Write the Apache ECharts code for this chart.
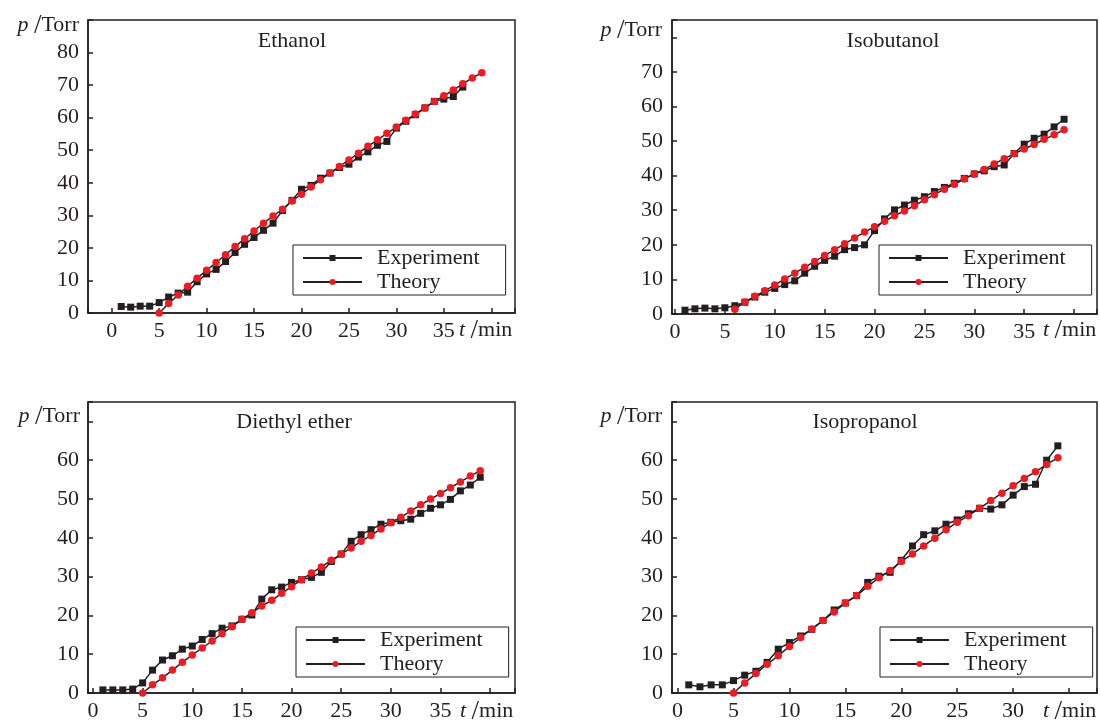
<!DOCTYPE html>
<html>
<head>
<meta charset="utf-8">
<script src="https://cdn.jsdelivr.net/npm/echarts@6/dist/echarts.min.js"></script>
<style>
  html, body { margin: 0; background: #fff; }
  #chart { width: 1100px; height: 722px; }
</style>
</head>
<body>
<div id="chart"></div>
<script>
// ---- data (t in min, p in Torr) ----
var ethanolExpT = [1, 2, 3, 4, 5, 6, 7, 8, 9, 10, 11, 12, 13, 14, 15, 16, 17, 18, 19, 20, 21, 22, 23, 24, 25, 26, 27, 28, 29, 30, 31, 32, 33, 34, 35, 36, 37];
var ethanolExpP = [2.0, 1.8, 2.1, 2.1, 3.2, 4.9, 6.1, 6.4, 9.6, 12.0, 13.4, 15.8, 18.6, 21.1, 23.2, 25.4, 27.6, 31.5, 34.6, 38.0, 39.2, 41.4, 43.0, 44.7, 45.7, 47.9, 49.5, 51.5, 52.7, 56.8, 58.9, 60.9, 63.0, 65.0, 65.7, 66.5, 69.4];
var ethanolTheoT = [5, 6, 7, 8, 9, 10, 11, 12, 13, 14, 15, 16, 17, 18, 19, 20, 21, 22, 23, 24, 25, 26, 27, 28, 29, 30, 31, 32, 33, 34, 35, 36, 37, 38, 39];
var ethanolTheoP = [0, 2.9, 5.5, 8.2, 10.7, 13.1, 15.5, 17.9, 20.4, 22.8, 25.2, 27.6, 29.8, 31.9, 34.4, 36.5, 38.7, 40.9, 43.0, 45.0, 47.0, 49.1, 51.2, 53.2, 55.2, 57.1, 59.2, 61.1, 63.0, 65.0, 66.7, 68.5, 70.4, 72.2, 73.8];

var isobutanolExpT = [1, 2, 3, 4, 5, 6, 7, 8, 9, 10, 11, 12, 13, 14, 15, 16, 17, 18, 19, 20, 21, 22, 23, 24, 25, 26, 27, 28, 29, 30, 31, 32, 33, 34, 35, 36, 37, 38, 39];
var isobutanolExpP = [1.1, 1.5, 1.7, 1.5, 1.8, 2.4, 3.4, 4.9, 6.3, 7.4, 8.5, 9.6, 11.8, 13.8, 15.5, 16.7, 18.6, 19.2, 20.0, 24.1, 27.5, 30.1, 31.5, 32.9, 33.9, 35.4, 36.6, 37.8, 39.2, 40.5, 41.4, 42.6, 43.1, 46.4, 49.1, 50.8, 52.0, 54.1, 56.3];
var isobutanolTheoT = [6, 7, 8, 9, 10, 11, 12, 13, 14, 15, 16, 17, 18, 19, 20, 21, 22, 23, 24, 25, 26, 27, 28, 29, 30, 31, 32, 33, 34, 35, 36, 37, 38, 39];
var isobutanolTheoP = [1.4, 3.5, 5.1, 6.7, 8.4, 10.1, 11.8, 13.5, 15.2, 16.9, 18.6, 20.3, 22.0, 23.7, 25.2, 26.8, 28.4, 29.8, 31.3, 33.0, 34.5, 36.1, 37.5, 39.0, 40.5, 41.8, 43.4, 44.9, 46.3, 47.7, 49.0, 50.5, 51.8, 53.3];

var etherExpT = [1, 2, 3, 4, 5, 6, 7, 8, 9, 10, 11, 12, 13, 14, 15, 16, 17, 18, 19, 20, 21, 22, 23, 24, 25, 26, 27, 28, 29, 30, 31, 32, 33, 34, 35, 36, 37, 38, 39];
var etherExpP = [0.8, 0.8, 0.8, 1.0, 2.6, 5.9, 8.5, 9.6, 11.3, 12.1, 13.8, 15.3, 16.7, 17.3, 19.0, 20.1, 24.2, 26.6, 27.3, 28.5, 29.2, 29.8, 31.1, 33.9, 35.8, 39.1, 40.8, 42.1, 43.5, 44.0, 44.4, 44.8, 46.3, 47.6, 48.5, 49.9, 52.1, 53.6, 55.6];
var etherTheoT = [5, 6, 7, 8, 9, 10, 11, 12, 13, 14, 15, 16, 17, 18, 19, 20, 21, 22, 23, 24, 25, 26, 27, 28, 29, 30, 31, 32, 33, 34, 35, 36, 37, 38, 39];
var etherTheoP = [0, 2.1, 3.9, 5.9, 7.9, 9.8, 11.6, 13.4, 15.3, 17.1, 19.0, 20.7, 22.4, 23.9, 25.7, 27.4, 29.2, 30.9, 32.5, 34.2, 35.8, 37.4, 39.1, 40.6, 42.3, 43.9, 45.3, 46.9, 48.5, 50.0, 51.4, 52.9, 54.4, 55.9, 57.3];

var isopropanolExpT = [1, 2, 3, 4, 5, 6, 7, 8, 9, 10, 11, 12, 13, 14, 15, 16, 17, 18, 19, 20, 21, 22, 23, 24, 25, 26, 27, 28, 29, 30, 31, 32, 33, 34];
var isopropanolExpP = [2.1, 1.6, 2.1, 2.1, 3.2, 4.6, 5.6, 7.9, 11.3, 13.0, 14.7, 16.4, 18.7, 21.4, 23.2, 25.1, 28.5, 30.1, 31.1, 34.2, 37.9, 40.8, 41.8, 43.5, 44.6, 46.2, 47.6, 47.4, 48.5, 51.0, 53.2, 53.8, 60.0, 63.7];
var isopropanolTheoT = [5, 6, 7, 8, 9, 10, 11, 12, 13, 14, 15, 16, 17, 18, 19, 20, 21, 22, 23, 24, 25, 26, 27, 28, 29, 30, 31, 32, 33, 34];
var isopropanolTheoP = [0, 2.6, 5.0, 7.4, 9.6, 12.0, 14.3, 16.5, 18.7, 20.9, 23.2, 25.1, 27.5, 29.7, 31.6, 33.9, 35.8, 37.9, 39.9, 42.1, 44.0, 45.7, 47.6, 49.6, 51.5, 53.4, 55.3, 57.0, 58.9, 60.6];

var panelNames = ['Ethanol', 'Isobutanol', 'Diethyl ether', 'Isopropanol'];
var legendNames = ['Experiment', 'Theory'];

var FONT = 'Liberation Serif';
var INK = '#231f20';
var RED = '#ed1c24';

// layout of each panel (pixels) and axis ranges
var panels = [
  {name: panelNames[0], expT: ethanolExpT, expP: ethanolExpP, theoT: ethanolTheoT, theoP: ethanolTheoP,
   grid: {left: 88, top: 20, width: 427, height: 293}, xMin: -2.5, xMax: 42.5, yMax: 90, xNameTick: 40, yNameTick: 90,
   title: [292, 42], yName: [79, 26], xName: [459, 331], legend: [293, 245]},
  {name: panelNames[1], expT: isobutanolExpT, expP: isobutanolExpP, theoT: isobutanolTheoT, theoP: isobutanolTheoP,
   grid: {left: 672, top: 20, width: 426, height: 294}, xMin: -0.3, xMax: 42.3, yMax: 85, xNameTick: 40, yNameTick: 80,
   title: [893, 42], yName: [662, 31], xName: [1043, 331], legend: [879, 245]},
  {name: panelNames[2], expT: etherExpT, expP: etherExpP, theoT: etherTheoT, theoP: etherTheoP,
   grid: {left: 88, top: 402, width: 427, height: 292}, xMin: -0.5, xMax: 42.5, yMax: 75, xNameTick: 40, yNameTick: 70,
   title: [294, 423], yName: [80, 417], xName: [460, 712], legend: [296, 627]},
  {name: panelNames[3], expT: isopropanolExpT, expP: isopropanolExpP, theoT: isopropanolTheoT, theoP: isopropanolTheoP,
   grid: {left: 672, top: 402, width: 426, height: 292}, xMin: -0.5, xMax: 37.5, yMax: 75, xNameTick: 35, yNameTick: 70,
   title: [865, 423], yName: [662, 417], xName: [1043, 712], legend: [880, 627]}
];

function zip(a, b) {
  return a.map(function (v, i) { return [v, b[i]]; });
}

var labelStyle = {fontFamily: FONT, fontSize: 22, color: INK};
var richName = {
  i: {fontFamily: FONT, fontSize: 22, fontStyle: 'italic', color: INK},
  s: {fontFamily: FONT, fontSize: 27, color: INK},
  n: {fontFamily: FONT, fontSize: 22, color: INK}
};

var option = {
  animation: false,
  backgroundColor: '#fff',
  grid: [], xAxis: [], yAxis: [], series: [], title: [], legend: []
};

panels.forEach(function (p, i) {
  option.grid.push(Object.assign({show: true, borderColor: INK, borderWidth: 1.5, backgroundColor: 'transparent'}, p.grid));

  option.xAxis.push({
    type: 'value', gridIndex: i, min: p.xMin, max: p.xMax, minInterval: 5, maxInterval: 5,
    axisLine: {show: true, onZero: false, lineStyle: {color: INK, width: 1.5}},
    axisTick: {show: true, inside: true, length: 5, lineStyle: {color: INK, width: 1.5}},
    axisLabel: Object.assign({margin: 7, formatter: function (v) {
      return (v % 5 === 0 && v !== p.xNameTick) ? String(v) : '';
    }}, labelStyle),
    splitLine: {show: false}
  });
  option.yAxis.push({
    type: 'value', gridIndex: i, min: 0, max: p.yMax, minInterval: 10, maxInterval: 10,
    axisLine: {show: true, onZero: false, lineStyle: {color: INK, width: 1.5}},
    axisTick: {show: true, inside: true, length: 5, lineStyle: {color: INK, width: 1.5}},
    axisLabel: Object.assign({margin: 9, formatter: function (v) {
      return (v % 10 === 0 && v !== p.yNameTick) ? String(v) : '';
    }}, labelStyle),
    splitLine: {show: false}
  });

  option.series.push({
    name: legendNames[0], type: 'line', xAxisIndex: i, yAxisIndex: i,
    data: zip(p.expT, p.expP),
    symbol: 'rect', symbolSize: 7, showSymbol: true,
    lineStyle: {color: INK, width: 1.5}, itemStyle: {color: INK},
    emphasis: {disabled: true}, z: 2
  });
  option.series.push({
    name: legendNames[1], type: 'line', xAxisIndex: i, yAxisIndex: i,
    data: zip(p.theoT, p.theoP),
    symbol: 'circle', symbolSize: 7.5, showSymbol: true,
    lineStyle: {color: INK, width: 1.5}, itemStyle: {color: RED},
    emphasis: {disabled: true}, z: 3
  });

  // panel name
  option.title.push({
    text: p.name, left: p.title[0], top: p.title[1] - 12, textAlign: 'center', padding: 0,
    textStyle: {fontFamily: FONT, fontSize: 22, fontWeight: 'normal', color: INK}
  });
  // y axis name: p /Torr
  option.title.push({
    text: '{i|p} {s|/}{n|Torr}', left: p.yName[0], top: p.yName[1] - 14, textAlign: 'right', padding: 0,
    textStyle: {fontFamily: FONT, fontSize: 22, fontWeight: 'normal', color: INK, rich: richName}
  });
  // x axis name: t /min
  option.title.push({
    text: '{i|t} {s|/}{n|min}', left: p.xName[0], top: p.xName[1] - 14, textAlign: 'left', padding: 0,
    textStyle: {fontFamily: FONT, fontSize: 22, fontWeight: 'normal', color: INK, rich: richName}
  });

  option.legend.push({
    data: legendNames, orient: 'vertical', left: p.legend[0], top: p.legend[1],
    borderColor: INK, borderWidth: 1, borderRadius: 0, padding: [2, 26, 2, 9],
    itemWidth: 59, itemHeight: 7.5, itemGap: 2, selectedMode: false,
    textStyle: {fontFamily: FONT, fontSize: 22, color: INK, padding: [0, 0, 0, 10]}
  });
});

var chart = echarts.init(document.getElementById('chart'));
chart.setOption(option);
</script>
</body>
</html>
